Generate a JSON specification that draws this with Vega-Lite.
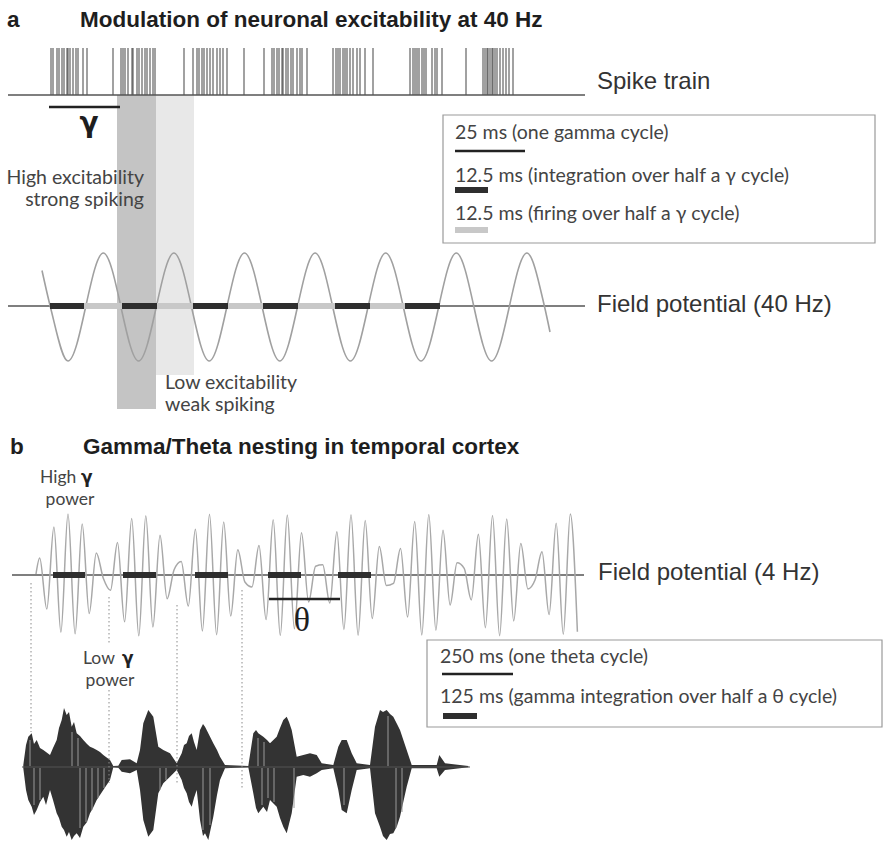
{
  "$schema": "https://vega.github.io/schema/vega-lite/v6.json",
  "width": 887,
  "height": 843,
  "autosize": {"type": "fit", "contains": "padding"},
  "padding": 0,
  "background": "white",
  "config": {"view": {"stroke": null}},
  "datasets": {
    "spikes": [
      {"x": 51, "y": 48, "y2": 95}, {"x": 53, "y": 48, "y2": 95}, {"x": 57, "y": 48, "y2": 95}, {"x": 59, "y": 48, "y2": 95}, {"x": 62, "y": 48, "y2": 95}, {"x": 64, "y": 48, "y2": 95}, {"x": 67, "y": 48, "y2": 95}, {"x": 68, "y": 48, "y2": 95}, {"x": 70, "y": 48, "y2": 95}, {"x": 73, "y": 48, "y2": 95}, {"x": 76, "y": 48, "y2": 95}, {"x": 78, "y": 48, "y2": 95}, {"x": 83, "y": 48, "y2": 95}, {"x": 87, "y": 48, "y2": 95},
      {"x": 113, "y": 48, "y2": 95}, {"x": 121, "y": 48, "y2": 95}, {"x": 123, "y": 48, "y2": 95}, {"x": 125, "y": 48, "y2": 95}, {"x": 128, "y": 48, "y2": 95}, {"x": 132, "y": 48, "y2": 95}, {"x": 133, "y": 48, "y2": 95}, {"x": 137, "y": 48, "y2": 95}, {"x": 139, "y": 48, "y2": 95}, {"x": 142, "y": 48, "y2": 95}, {"x": 145, "y": 48, "y2": 95}, {"x": 147, "y": 48, "y2": 95}, {"x": 150, "y": 48, "y2": 95}, {"x": 153, "y": 48, "y2": 95}, {"x": 155, "y": 48, "y2": 95},
      {"x": 184, "y": 48, "y2": 95}, {"x": 193, "y": 48, "y2": 95}, {"x": 197, "y": 48, "y2": 95}, {"x": 199, "y": 48, "y2": 95}, {"x": 202, "y": 48, "y2": 95}, {"x": 204, "y": 48, "y2": 95}, {"x": 207, "y": 48, "y2": 95}, {"x": 210, "y": 48, "y2": 95}, {"x": 213, "y": 48, "y2": 95}, {"x": 217, "y": 48, "y2": 95}, {"x": 220, "y": 48, "y2": 95}, {"x": 223, "y": 48, "y2": 95}, {"x": 227, "y": 48, "y2": 95},
      {"x": 244, "y": 48, "y2": 95}, {"x": 264, "y": 48, "y2": 95}, {"x": 272, "y": 48, "y2": 95}, {"x": 274, "y": 48, "y2": 95}, {"x": 277, "y": 48, "y2": 95}, {"x": 279, "y": 48, "y2": 95}, {"x": 282, "y": 48, "y2": 95}, {"x": 283, "y": 48, "y2": 95}, {"x": 286, "y": 48, "y2": 95}, {"x": 288, "y": 48, "y2": 95}, {"x": 291, "y": 48, "y2": 95}, {"x": 293, "y": 48, "y2": 95}, {"x": 297, "y": 48, "y2": 95}, {"x": 300, "y": 48, "y2": 95}, {"x": 302, "y": 48, "y2": 95}, {"x": 307, "y": 48, "y2": 95},
      {"x": 333, "y": 48, "y2": 95}, {"x": 336, "y": 48, "y2": 95}, {"x": 338, "y": 48, "y2": 95}, {"x": 340, "y": 48, "y2": 95}, {"x": 343, "y": 48, "y2": 95}, {"x": 345, "y": 48, "y2": 95}, {"x": 347, "y": 48, "y2": 95}, {"x": 350, "y": 48, "y2": 95}, {"x": 353, "y": 48, "y2": 95}, {"x": 357, "y": 48, "y2": 95}, {"x": 360, "y": 48, "y2": 95}, {"x": 365, "y": 48, "y2": 95}, {"x": 373, "y": 48, "y2": 95},
      {"x": 410, "y": 48, "y2": 95}, {"x": 413, "y": 48, "y2": 95}, {"x": 415, "y": 48, "y2": 95}, {"x": 417, "y": 48, "y2": 95}, {"x": 419, "y": 48, "y2": 95}, {"x": 422, "y": 48, "y2": 95}, {"x": 424, "y": 48, "y2": 95}, {"x": 426, "y": 48, "y2": 95}, {"x": 432, "y": 48, "y2": 95}, {"x": 435, "y": 48, "y2": 95}, {"x": 437, "y": 48, "y2": 95}, {"x": 442, "y": 48, "y2": 95},
      {"x": 466, "y": 48, "y2": 95}, {"x": 483, "y": 48, "y2": 95}, {"x": 485, "y": 48, "y2": 95}, {"x": 487, "y": 48, "y2": 95}, {"x": 488, "y": 48, "y2": 95}, {"x": 490, "y": 48, "y2": 95}, {"x": 492, "y": 48, "y2": 95}, {"x": 493, "y": 48, "y2": 95}, {"x": 495, "y": 48, "y2": 95}, {"x": 497, "y": 48, "y2": 95}, {"x": 500, "y": 48, "y2": 95}, {"x": 503, "y": 48, "y2": 95}, {"x": 506, "y": 48, "y2": 95}, {"x": 509, "y": 48, "y2": 95}, {"x": 513, "y": 48, "y2": 95}
    ],
    "gamma40": [
      {"x": 42, "y": 270.5}, {"x": 50.4, "y": 307}, {"x": 68, "y": 361}, {"x": 103.3, "y": 253}, {"x": 138.6, "y": 361},
      {"x": 173.9, "y": 253}, {"x": 209.2, "y": 361}, {"x": 244.5, "y": 253}, {"x": 279.8, "y": 361}, {"x": 315.1, "y": 253},
      {"x": 350.4, "y": 361}, {"x": 385.7, "y": 253}, {"x": 421, "y": 361}, {"x": 456.3, "y": 253}, {"x": 491.6, "y": 361},
      {"x": 526.9, "y": 253}, {"x": 544.6, "y": 307}, {"x": 550, "y": 332}
    ],
    "theta4": [
      {"x": 36, "y": 574}, {"x": 39.7, "y": 558.0}, {"x": 46.8, "y": 609.1}, {"x": 53.9, "y": 527.1}, {"x": 60.9, "y": 632.2},
      {"x": 68.0, "y": 514.1}, {"x": 75.1, "y": 633.8}, {"x": 82.2, "y": 523.9}, {"x": 89.2, "y": 613.4}, {"x": 96.3, "y": 553.0},
      {"x": 103.4, "y": 578.6}, {"x": 110.5, "y": 590.3}, {"x": 117.5, "y": 542.4}, {"x": 124.6, "y": 621.8}, {"x": 131.7, "y": 518.4},
      {"x": 138.8, "y": 635.8}, {"x": 145.8, "y": 515.7}, {"x": 152.9, "y": 627.0}, {"x": 160.0, "y": 535.3}, {"x": 167.1, "y": 598.7},
      {"x": 174.1, "y": 569.7}, {"x": 181.2, "y": 561.4}, {"x": 188.3, "y": 606.1}, {"x": 195.4, "y": 529.3}, {"x": 202.4, "y": 630.9},
      {"x": 209.5, "y": 514.3}, {"x": 216.6, "y": 634.7}, {"x": 223.7, "y": 522.1}, {"x": 230.7, "y": 616.0}, {"x": 237.8, "y": 549.7},
      {"x": 244.9, "y": 582.0}, {"x": 252.0, "y": 586.9}, {"x": 259.0, "y": 545.4}, {"x": 266.1, "y": 619.5}, {"x": 273.2, "y": 519.8},
      {"x": 280.3, "y": 635.5}, {"x": 287.3, "y": 515.0}, {"x": 294.4, "y": 628.7}, {"x": 301.5, "y": 532.7}, {"x": 308.6, "y": 601.9},
      {"x": 315.6, "y": 566.2}, {"x": 322.7, "y": 564.8}, {"x": 329.8, "y": 603.1}, {"x": 336.9, "y": 531.7}, {"x": 343.9, "y": 629.4},
      {"x": 351.0, "y": 514.8}, {"x": 358.1, "y": 635.3}, {"x": 365.2, "y": 520.5}, {"x": 372.2, "y": 618.6}, {"x": 379.3, "y": 546.6},
      {"x": 386.4, "y": 585.5}, {"x": 393.5, "y": 583.4}, {"x": 400.5, "y": 548.5}, {"x": 407.6, "y": 617.1}, {"x": 414.7, "y": 521.4},
      {"x": 421.8, "y": 634.9}, {"x": 428.8, "y": 514.5}, {"x": 435.9, "y": 630.3}, {"x": 443.0, "y": 530.3}, {"x": 450.1, "y": 604.9},
      {"x": 457.1, "y": 562.8}, {"x": 464.2, "y": 568.3}, {"x": 471.3, "y": 599.9}, {"x": 478.4, "y": 534.2}, {"x": 485.4, "y": 627.7},
      {"x": 492.5, "y": 515.4}, {"x": 499.6, "y": 635.7}, {"x": 506.7, "y": 519.0}, {"x": 513.7, "y": 620.9}, {"x": 520.8, "y": 543.6},
      {"x": 527.9, "y": 588.9}, {"x": 535.0, "y": 580.0}, {"x": 542.0, "y": 551.7}, {"x": 549.1, "y": 614.5}, {"x": 556.2, "y": 523.2},
      {"x": 563.3, "y": 634.2}, {"x": 570.3, "y": 514.1}, {"x": 577.4, "y": 631.7}
    ],
    "speech": [
      {"x": 23.3, "y": 765, "y2": 768.3}, {"x": 26, "y": 745, "y2": 790}, {"x": 28.3, "y": 736.7, "y2": 800}, {"x": 31.7, "y": 733.3, "y2": 806.7}, {"x": 34, "y": 744, "y2": 815}, {"x": 36.7, "y": 740, "y2": 810},
      {"x": 40, "y": 748, "y2": 802}, {"x": 43.3, "y": 750, "y2": 796.7}, {"x": 46, "y": 752, "y2": 805}, {"x": 50, "y": 755, "y2": 790}, {"x": 53, "y": 748, "y2": 800}, {"x": 56.7, "y": 740, "y2": 813.3}, {"x": 59, "y": 728, "y2": 818}, {"x": 61.7, "y": 720, "y2": 826.7},
      {"x": 64, "y": 708, "y2": 830}, {"x": 66.7, "y": 715, "y2": 836.7}, {"x": 69, "y": 712, "y2": 832}, {"x": 71.7, "y": 726.7, "y2": 840}, {"x": 74, "y": 722, "y2": 836}, {"x": 76.7, "y": 733.3, "y2": 833.3}, {"x": 80, "y": 736, "y2": 838}, {"x": 83.3, "y": 740, "y2": 826.7},
      {"x": 87, "y": 744, "y2": 822}, {"x": 90, "y": 746.7, "y2": 813.3}, {"x": 93, "y": 748, "y2": 808}, {"x": 96.7, "y": 750, "y2": 800}, {"x": 100, "y": 752, "y2": 795}, {"x": 103.3, "y": 755, "y2": 790}, {"x": 110, "y": 760, "y2": 780},
      {"x": 113.3, "y": 766, "y2": 767.3}, {"x": 118.3, "y": 765.7, "y2": 767.7}, {"x": 121.7, "y": 760, "y2": 771.7}, {"x": 130, "y": 759.3, "y2": 773.3},
      {"x": 136.7, "y": 763.3, "y2": 770}, {"x": 140, "y": 750, "y2": 790}, {"x": 143.3, "y": 723.3, "y2": 820}, {"x": 148.3, "y": 710, "y2": 836.7},
      {"x": 153.3, "y": 716.7, "y2": 830}, {"x": 158.3, "y": 746.7, "y2": 793.3}, {"x": 163.3, "y": 750, "y2": 783.3}, {"x": 170, "y": 753.3, "y2": 776.7},
      {"x": 176.7, "y": 763.3, "y2": 770}, {"x": 181.7, "y": 753.3, "y2": 780}, {"x": 184, "y": 745, "y2": 788}, {"x": 186.7, "y": 743.3, "y2": 793.3}, {"x": 189, "y": 736, "y2": 802}, {"x": 191.7, "y": 733.3, "y2": 806.7},
      {"x": 194, "y": 742, "y2": 798}, {"x": 196.7, "y": 750, "y2": 790}, {"x": 200, "y": 730, "y2": 820}, {"x": 203, "y": 724, "y2": 836}, {"x": 205, "y": 726.7, "y2": 833.3}, {"x": 208.3, "y": 733.3, "y2": 840},
      {"x": 213.3, "y": 743.3, "y2": 816.7}, {"x": 217, "y": 750, "y2": 795}, {"x": 220, "y": 756.7, "y2": 780}, {"x": 225, "y": 765, "y2": 768.3}, {"x": 248.3, "y": 766, "y2": 767.3},
      {"x": 253.3, "y": 733.3, "y2": 793.3}, {"x": 256, "y": 730, "y2": 808}, {"x": 258.3, "y": 733.3, "y2": 813.3}, {"x": 263.3, "y": 736.7, "y2": 806.7}, {"x": 267, "y": 740, "y2": 812}, {"x": 270, "y": 743.3, "y2": 800},
      {"x": 276.7, "y": 736.7, "y2": 806.7}, {"x": 280, "y": 728, "y2": 818}, {"x": 283.3, "y": 720, "y2": 826.7}, {"x": 286.7, "y": 716.7, "y2": 833.3}, {"x": 289, "y": 722, "y2": 824}, {"x": 291.7, "y": 730, "y2": 813.3},
      {"x": 296.7, "y": 756.7, "y2": 776.7}, {"x": 303.3, "y": 755, "y2": 775}, {"x": 310, "y": 753.3, "y2": 776.7}, {"x": 316.7, "y": 755, "y2": 773.3},
      {"x": 321.7, "y": 763.3, "y2": 770}, {"x": 333.3, "y": 765, "y2": 768.3}, {"x": 338.3, "y": 746.7, "y2": 790}, {"x": 341.7, "y": 740, "y2": 810},
      {"x": 346.7, "y": 740, "y2": 813.3}, {"x": 351.7, "y": 753.3, "y2": 790}, {"x": 356.7, "y": 763.3, "y2": 770}, {"x": 370, "y": 765, "y2": 768.3},
      {"x": 375, "y": 726.7, "y2": 813.3}, {"x": 380, "y": 710, "y2": 826.7}, {"x": 383, "y": 712, "y2": 836}, {"x": 386.7, "y": 710, "y2": 840}, {"x": 390, "y": 714, "y2": 834}, {"x": 393.3, "y": 716.7, "y2": 833.3},
      {"x": 397, "y": 724, "y2": 826}, {"x": 400, "y": 730, "y2": 816.7}, {"x": 406.7, "y": 750, "y2": 786.7}, {"x": 411.7, "y": 765, "y2": 768.3}, {"x": 436.7, "y": 765, "y2": 768.3},
      {"x": 439.3, "y": 755, "y2": 776.7}, {"x": 445, "y": 763.3, "y2": 770}, {"x": 468.3, "y": 766, "y2": 767.3}
    ],
    "streaks": [
      {"x": 34, "y": 768, "y2": 805}, {"x": 40, "y": 768, "y2": 800}, {"x": 80, "y": 768, "y2": 828}, {"x": 86, "y": 768, "y2": 822},
      {"x": 92, "y": 768, "y2": 810}, {"x": 98, "y": 768, "y2": 798}, {"x": 104, "y": 768, "y2": 788}, {"x": 160, "y": 768, "y2": 790},
      {"x": 166, "y": 768, "y2": 780}, {"x": 203, "y": 768, "y2": 830}, {"x": 210, "y": 768, "y2": 825}, {"x": 262, "y": 768, "y2": 805},
      {"x": 268, "y": 768, "y2": 798}, {"x": 274, "y": 768, "y2": 802}, {"x": 294, "y": 768, "y2": 808}, {"x": 344, "y": 768, "y2": 805},
      {"x": 396, "y": 768, "y2": 828}, {"x": 402, "y": 768, "y2": 812},
      {"x": 30, "y": 740, "y2": 766}, {"x": 72, "y": 732, "y2": 766}, {"x": 78, "y": 738, "y2": 766}, {"x": 258, "y": 738, "y2": 766}, {"x": 264, "y": 742, "y2": 766}, {"x": 388, "y": 716, "y2": 766}
    ]
  },
  "encoding": {
    "x": {"field": "x", "type": "quantitative", "scale": {"domain": [0, 887], "nice": false, "zero": false}, "axis": null},
    "y": {"field": "y", "type": "quantitative", "scale": {"domain": [0, 843], "nice": false, "zero": false, "reverse": true}, "axis": null}
  },
  "layer": [
    {
      "data": {"values": [{"x": 117, "x2": 156, "y": 95, "y2": 409}]},
      "mark": {"type": "rect", "color": "#c4c4c4"},
      "encoding": {"x2": {"field": "x2"}, "y2": {"field": "y2"}}
    },
    {
      "data": {"values": [{"x": 156, "x2": 194, "y": 95, "y2": 375}]},
      "mark": {"type": "rect", "color": "#e8e8e8"},
      "encoding": {"x2": {"field": "x2"}, "y2": {"field": "y2"}}
    },
    {
      "data": {"values": [{"x": 443, "x2": 875, "y": 115, "y2": 243}, {"x": 427, "x2": 882, "y": 640, "y2": 727}]},
      "mark": {"type": "rect", "fill": "white", "stroke": "#9a9a9a", "strokeWidth": 1.2},
      "encoding": {"x2": {"field": "x2"}, "y2": {"field": "y2"}}
    },
    {
      "data": {"name": "spikes"},
      "mark": {"type": "rule", "color": "#2a2a2a", "opacity": 0.68, "strokeWidth": 1.3},
      "encoding": {"y2": {"field": "y2"}}
    },
    {
      "data": {"values": [{"x": 8, "x2": 585, "y": 95}, {"x": 8, "x2": 585, "y": 306}, {"x": 12, "x2": 584, "y": 575}]},
      "mark": {"type": "rule", "color": "#555555", "strokeWidth": 1.6},
      "encoding": {"x2": {"field": "x2"}}
    },
    {
      "data": {"name": "gamma40"},
      "mark": {"type": "line", "color": "#a0a0a0", "strokeWidth": 1.6, "interpolate": "monotone"},
      "encoding": {}
    },
    {
      "data": {"values": [{"x": 84, "x2": 122, "y": 306}, {"x": 157, "x2": 193, "y": 306}, {"x": 228, "x2": 263, "y": 306}, {"x": 298, "x2": 335, "y": 306}, {"x": 370, "x2": 405, "y": 306}, {"x": 455, "x2": 488, "y": 230}]},
      "mark": {"type": "rule", "color": "#c8c8c8", "strokeWidth": 6},
      "encoding": {"x2": {"field": "x2"}}
    },
    {
      "data": {"values": [{"x": 50, "x2": 84, "y": 306}, {"x": 122, "x2": 157, "y": 306}, {"x": 193, "x2": 228, "y": 306}, {"x": 263, "x2": 298, "y": 306}, {"x": 335, "x2": 370, "y": 306}, {"x": 405, "x2": 440, "y": 306}, {"x": 455, "x2": 488, "y": 190}]},
      "mark": {"type": "rule", "color": "#2e2e2e", "strokeWidth": 6},
      "encoding": {"x2": {"field": "x2"}}
    },
    {
      "data": {"name": "theta4"},
      "mark": {"type": "line", "color": "#a8a8a8", "strokeWidth": 1.5, "interpolate": "monotone"},
      "encoding": {}
    },
    {
      "data": {"values": [{"x": 53, "x2": 85, "y": 575}, {"x": 123, "x2": 156, "y": 575}, {"x": 195, "x2": 228, "y": 575}, {"x": 268, "x2": 301, "y": 575}, {"x": 338, "x2": 371, "y": 575}, {"x": 443, "x2": 477, "y": 716}]},
      "mark": {"type": "rule", "color": "#2e2e2e", "strokeWidth": 6},
      "encoding": {"x2": {"field": "x2"}}
    },
    {
      "data": {"values": [{"x": 49, "x2": 120, "y": 107}, {"x": 269, "x2": 340, "y": 599}, {"x": 455, "x2": 525, "y": 151}, {"x": 442, "x2": 513, "y": 674}]},
      "mark": {"type": "rule", "color": "#222222", "strokeWidth": 2.6},
      "encoding": {"x2": {"field": "x2"}}
    },
    {
      "data": {"name": "speech"},
      "mark": {"type": "area", "color": "#333333"},
      "encoding": {"y2": {"field": "y2"}}
    },
    {
      "data": {"name": "streaks"},
      "mark": {"type": "rule", "color": "#9a9a9a", "strokeWidth": 1},
      "encoding": {"y2": {"field": "y2"}}
    },
    {
      "data": {"values": [{"x": 22, "x2": 470, "y": 767}]},
      "mark": {"type": "rule", "color": "#555555", "strokeWidth": 1},
      "encoding": {"x2": {"field": "x2"}}
    },
    {
      "data": {"values": [{"x": 31, "y": 583, "y2": 732}, {"x": 109, "y": 597, "y2": 645}, {"x": 109, "y": 690, "y2": 783}, {"x": 177, "y": 605, "y2": 785}, {"x": 242, "y": 590, "y2": 788}]},
      "mark": {"type": "rule", "color": "#8a8a8a", "strokeWidth": 1, "strokeDash": [1.5, 2.5]},
      "encoding": {"y2": {"field": "y2"}}
    },
    {
      "data": {"values": [
        {"x": 7, "y": 20, "label": "a"},
        {"x": 80, "y": 20, "label": "Modulation of neuronal excitability at 40 Hz"},
        {"x": 10, "y": 447, "label": "b"},
        {"x": 83, "y": 447, "label": "Gamma/Theta nesting in temporal cortex"}
      ]},
      "mark": {"type": "text", "font": "Liberation Sans", "fontWeight": "bold", "fontSize": 22.5, "align": "left", "baseline": "middle", "color": "#1e1e1e"},
      "encoding": {"text": {"field": "label"}}
    },
    {
      "data": {"values": [
        {"x": 597, "y": 82, "label": "Spike train"},
        {"x": 597, "y": 305, "label": "Field potential (40 Hz)"},
        {"x": 598, "y": 573, "label": "Field potential (4 Hz)"}
      ]},
      "mark": {"type": "text", "font": "Liberation Sans", "fontSize": 24, "align": "left", "baseline": "middle", "color": "#333333"},
      "encoding": {"text": {"field": "label"}}
    },
    {
      "data": {"values": [
        {"x": 144, "y": 178, "label": "High excitability"},
        {"x": 144, "y": 200, "label": "strong spiking"}
      ]},
      "mark": {"type": "text", "font": "Lato", "fontSize": 19.5, "align": "right", "baseline": "middle", "color": "#444444"},
      "encoding": {"text": {"field": "label"}}
    },
    {
      "data": {"values": [
        {"x": 165, "y": 383, "label": "Low excitability"},
        {"x": 165, "y": 405, "label": "weak spiking"}
      ]},
      "mark": {"type": "text", "font": "Lato", "fontSize": 19.5, "align": "left", "baseline": "middle", "color": "#444444"},
      "encoding": {"text": {"field": "label"}}
    },
    {
      "data": {"values": [
        {"x": 40, "y": 478, "label": "High"},
        {"x": 83, "y": 659, "label": "Low"}
      ]},
      "mark": {"type": "text", "font": "Lato", "fontSize": 17.5, "align": "left", "baseline": "middle", "color": "#444444"},
      "encoding": {"text": {"field": "label"}}
    },
    {
      "data": {"values": [
        {"x": 70, "y": 500, "label": "power"},
        {"x": 110, "y": 681, "label": "power"}
      ]},
      "mark": {"type": "text", "font": "Lato", "fontSize": 17.5, "align": "center", "baseline": "middle", "color": "#444444"},
      "encoding": {"text": {"field": "label"}}
    },
    {
      "data": {"values": [
        {"x": 81, "y": 478, "label": "γ"},
        {"x": 122, "y": 659, "label": "γ"}
      ]},
      "mark": {"type": "text", "font": "DejaVu Sans", "fontWeight": "bold", "fontSize": 17, "align": "left", "baseline": "middle", "color": "#222222"},
      "encoding": {"text": {"field": "label"}}
    },
    {
      "data": {"values": [
        {"x": 455, "y": 133, "label": "25 ms (one gamma cycle)"},
        {"x": 455, "y": 176, "label": "12.5 ms (integration over half a γ cycle)"},
        {"x": 455, "y": 214, "label": "12.5 ms (firing over half a γ cycle)"},
        {"x": 440, "y": 657, "label": "250 ms (one theta cycle)"},
        {"x": 440, "y": 697, "label": "125 ms (gamma integration over half a θ cycle)"}
      ]},
      "mark": {"type": "text", "font": "Lato", "fontSize": 19.5, "align": "left", "baseline": "middle", "color": "#444444"},
      "encoding": {"text": {"field": "label"}}
    },
    {
      "data": {"values": [{"x": 89, "y": 124, "label": "γ"}]},
      "mark": {"type": "text", "font": "DejaVu Sans", "fontWeight": "bold", "fontSize": 28, "align": "center", "baseline": "middle", "color": "#1e1e1e"},
      "encoding": {"text": {"field": "label"}}
    },
    {
      "data": {"values": [{"x": 302, "y": 621, "label": "θ"}]},
      "mark": {"type": "text", "font": "Liberation Serif", "fontSize": 34, "align": "center", "baseline": "middle", "color": "#1e1e1e"},
      "encoding": {"text": {"field": "label"}}
    }
  ]
}
